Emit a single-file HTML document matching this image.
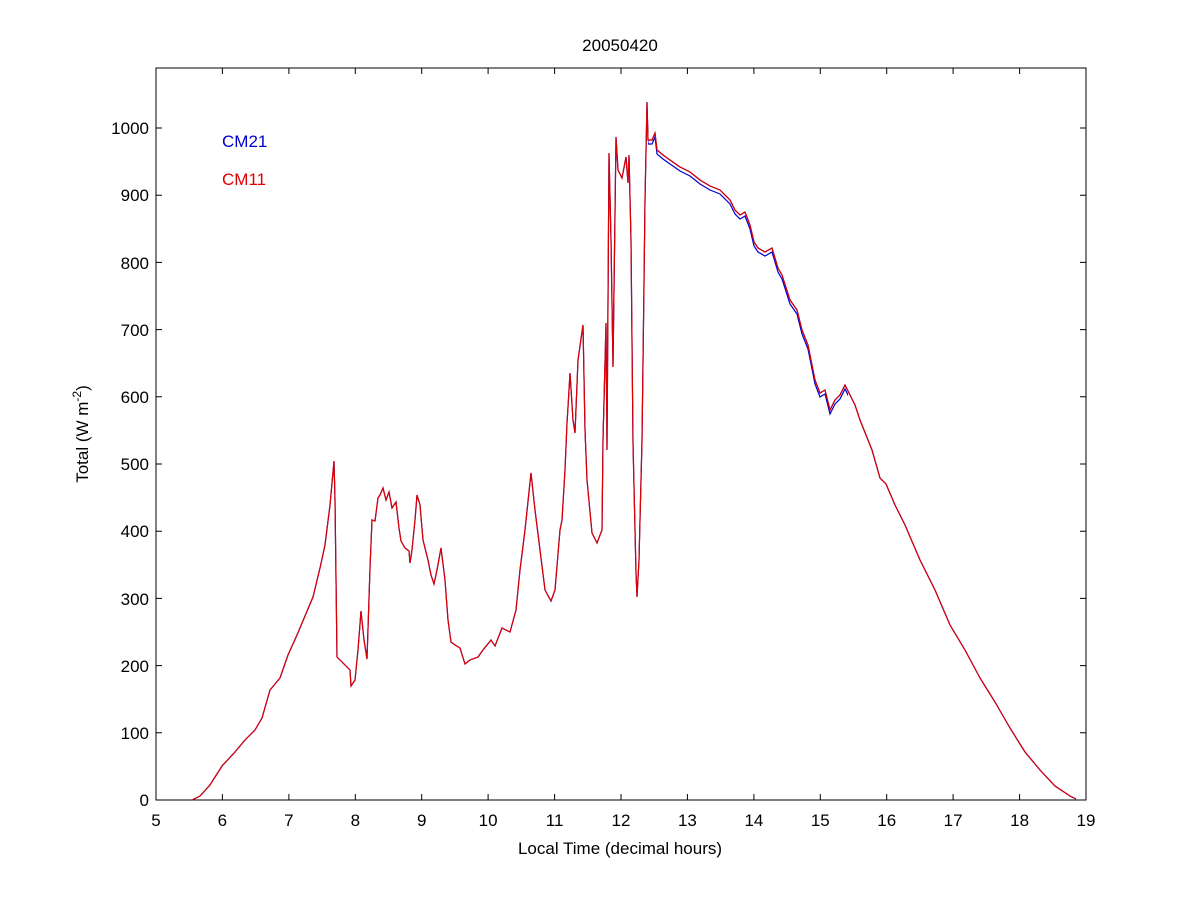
<!DOCTYPE html>
<html><head><style>body{margin:0;background:#fff}svg{display:block}text{font-family:"Liberation Sans",Arial,sans-serif;font-size:17px;fill:#000}</style></head><body>
<svg width="1200" height="900" xmlns="http://www.w3.org/2000/svg">
<rect width="1200" height="900" fill="#fff"/>
<rect x="156" y="68" width="930" height="732" fill="none" stroke="#000" stroke-width="1"/>
<g stroke="#000" stroke-width="1">
<path d="M156,800v-6M222.4,800v-6M288.9,800v-6M355.3,800v-6M421.7,800v-6M488.1,800v-6M554.6,800v-6M621,800v-6M687.4,800v-6M753.9,800v-6M820.3,800v-6M886.7,800v-6M953.1,800v-6M1019.6,800v-6M1086,800v-6"/>
<path d="M222.4,68v6M288.9,68v6M355.3,68v6M421.7,68v6M488.1,68v6M554.6,68v6M621,68v6M687.4,68v6M753.9,68v6M820.3,68v6M886.7,68v6M953.1,68v6M1019.6,68v6"/>
<path d="M156,732.8h6M156,665.6h6M156,598.4h6M156,531.2h6M156,464h6M156,396.8h6M156,329.6h6M156,262.4h6M156,195.2h6M156,128h6"/>
<path d="M1086,732.8h-6M1086,665.6h-6M1086,598.4h-6M1086,531.2h-6M1086,464h-6M1086,396.8h-6M1086,329.6h-6M1086,262.4h-6M1086,195.2h-6M1086,128h-6"/>
</g>
<g text-anchor="middle">
<text x="156" y="826">5</text><text x="222.4" y="826">6</text><text x="288.9" y="826">7</text><text x="355.3" y="826">8</text><text x="421.7" y="826">9</text><text x="488.1" y="826">10</text><text x="554.6" y="826">11</text><text x="621" y="826">12</text><text x="687.4" y="826">13</text><text x="753.9" y="826">14</text><text x="820.3" y="826">15</text><text x="886.7" y="826">16</text><text x="953.1" y="826">17</text><text x="1019.6" y="826">18</text><text x="1086" y="826">19</text>
<text x="620" y="854">Local Time (decimal hours)</text>
<text x="620" y="51">20050420</text>
</g>
<g text-anchor="end">
<text x="149" y="806">0</text><text x="149" y="739">100</text><text x="149" y="672">200</text><text x="149" y="605">300</text><text x="149" y="537">400</text><text x="149" y="470">500</text><text x="149" y="403">600</text><text x="149" y="336">700</text><text x="149" y="269">800</text><text x="149" y="201">900</text><text x="149" y="134">1000</text>
</g>
<text transform="translate(88,434) rotate(-90)" text-anchor="middle">Total (W m<tspan dy="-7" font-size="12">-2</tspan><tspan dy="7">)</tspan></text>
<text x="222" y="147" style="fill:#0000cc">CM21</text>
<text x="222" y="185" style="fill:#dd0000">CM11</text>
<defs><clipPath id="c"><rect x="648" y="60" width="200" height="400"/></clipPath>
<polyline id="p" fill="none" stroke-width="1.2" points="192,800 200,796 210,785 222,766 235,752 245,740 255,730 262,718 270,690 280,678 288,655 297,635 305,616 313,597 320,568 325,545 330,505 334,461 335,500 337,657 345,665 350,670 351,686 355,680 358,650 361,611 364,640 367,659 370,568 372,520 375,521 378,498 380,495 383,488 386,500 389,492 392,508 396,502 399,528 401,541 405,548 409,551 410,563 412,550 415,520 417,495 420,505 423,540 428,560 431,575 434,584 437,570 441,548 445,580 448,620 451,642 455,645 460,648 465,664 470,660 478,657 483,650 491,640 495,646 502,628 510,632 516,610 520,570 525,530 531,473 535,510 540,550 545,590 551,601 555,590 560,530 562,520 565,470 567,423 568,407 570,373 573,420 575,433 578,360 583,325 585,430 587,480 592,533 597,543 602,530 603,440 606,323 607,450 609,153 611,240 613,367 614,290 616,137 618,170 622,178 626,157 628,183 629,155 631,240 633,443 636,573 637,597 639,560 642,440 644,283 645,200 647,102 648,140 652,140 655,133 657,150 663,155 670,160 680,167 690,172 700,180 710,186 720,190 730,200 735,210 740,215 745,212 750,225 754,242 758,248 765,252 772,248 778,268 782,275 790,300 797,310 802,330 808,345 815,380 820,393 825,390 830,410 835,400 840,395 845,385 850,395 855,405 860,420 866,435 872,450 880,478 886,484 895,505 905,525 920,560 935,590 950,625 965,650 980,678 995,702 1010,728 1025,752 1040,770 1055,786 1070,796 1076,799"/></defs>
<use href="#p" stroke="#0000cc"/>
<use href="#p" stroke="#0000cc" transform="translate(0,4)" clip-path="url(#c)"/>
<use href="#p" stroke="#dd0000"/>
</svg>
</body></html>
